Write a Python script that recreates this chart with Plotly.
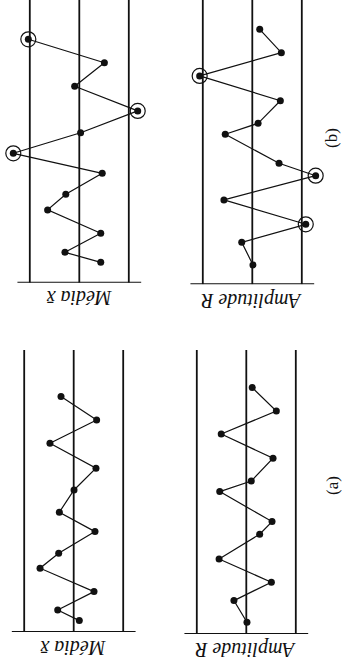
import plotly.graph_objects as go

# ---- data (values in sigma units, CL = 0; t = sample position) ----
limits = [-3, 0, 3]

b_mean_v = [-1.30, 0.87, -1.30, 1.92, 0.82, -1.39, 4.00, -0.08, -3.54, 0.28, -1.52, 3.09]
b_mean_t = [1.02, 1.52, 2.47, 3.64, 4.42, 5.47, 6.47, 7.50, 8.59, 9.82, 11.00, 12.17]
b_mean_out = [6, 8, 11]

b_range_v = [-0.04, 0.64, -3.24, 1.72, -3.84, -1.62, 1.64, -0.35, -1.70, 3.19, -1.76, -0.45]
b_range_t = [0.97, 2.10, 3.00, 4.22, 5.43, 6.05, 7.50, 8.05, 9.18, 10.42, 11.58, 12.75]
b_range_out = [2, 4, 9]

a_mean_v = [-0.34, 0.97, -1.23, 2.04, 0.91, -1.29, 0.87, -0.02, -1.35, 1.44, -1.39, 0.77]
a_mean_t = [0.57, 1.10, 2.02, 3.19, 3.94, 5.02, 5.99, 7.10, 8.19, 9.44, 10.60, 11.77]
a_mean_out = []

a_range_v = [-0.04, 0.75, -1.52, 1.65, -0.81, -1.56, 1.61, -0.30, -1.62, 1.52, -1.82, -0.36]
a_range_t = [0.59, 1.67, 2.59, 3.75, 4.99, 5.62, 7.12, 7.65, 8.79, 10.00, 11.15, 12.32]
a_range_out = []

label_mean = "Média x\u0304"
label_range = "Amplitude R"
panel_labels = ["(b)", "(a)"]

# ---- layout geometry ----
W, H = 346, 670
UNIT = 16.5   # px per sigma unit
TUNIT = 20.0  # px per sample unit
HALF_BASE = 3.75
HALF_RANGE = 4.4

panels = [
    dict(cx=79.3, base=282.7, top=0.0, v=b_mean_v, t=b_mean_t, out=b_mean_out, label=label_mean),
    dict(cx=252.3, base=284.3, top=0.0, v=b_range_v, t=b_range_t, out=b_range_out, label=label_range),
    dict(cx=73.7, base=632.0, top=350.0, v=a_mean_v, t=a_mean_t, out=a_mean_out, label=label_mean),
    dict(cx=246.3, base=634.0, top=350.0, v=a_range_v, t=a_range_t, out=a_range_out, label=label_range),
]

fig = go.Figure()
shapes = []
annotations = []
layout_axes = {}

for i, p in enumerate(panels, start=1):
    sfx = "" if i == 1 else str(i)
    xr, yr = f"x{sfx}", f"y{sfx}"
    x0 = (p["cx"] - HALF_RANGE * UNIT) / W
    x1 = (p["cx"] + HALF_RANGE * UNIT) / W
    y0 = 1 - p["base"] / H
    y1 = 1 - p["top"] / H
    tmax = (p["base"] - p["top"]) / TUNIT
    layout_axes[f"xaxis{sfx}"] = dict(domain=[x0, x1], range=[HALF_RANGE, -HALF_RANGE],
                                      visible=False, anchor=yr, fixedrange=True)
    layout_axes[f"yaxis{sfx}"] = dict(domain=[y0, y1], range=[0, tmax],
                                      visible=False, anchor=xr, fixedrange=True)
    for lim in limits:
        shapes.append(dict(type="line", xref=xr, yref=yr, x0=lim, x1=lim, y0=0, y1=tmax,
                           line=dict(color="#111", width=1.8)))
    shapes.append(dict(type="line", xref=xr, yref=yr, x0=-HALF_BASE, x1=HALF_BASE, y0=0, y1=0,
                       line=dict(color="#111", width=2)))
    fig.add_trace(go.Scatter(x=p["v"], y=p["t"], xaxis=xr, yaxis=yr, mode="lines+markers",
                             line=dict(color="#111", width=1.2),
                             marker=dict(color="#111", size=7),
                             cliponaxis=False, showlegend=False, hoverinfo="skip"))
    if p["out"]:
        fig.add_trace(go.Scatter(x=[p["v"][k] for k in p["out"]], y=[p["t"][k] for k in p["out"]],
                                 xaxis=xr, yaxis=yr, mode="markers",
                                 marker=dict(symbol="circle-open", size=15, color="#111",
                                             line=dict(color="#111", width=1.2)),
                                 cliponaxis=False, showlegend=False, hoverinfo="skip"))
    annotations.append(dict(text=p["label"], xref=xr, yref="paper", x=0,
                            y=1 - (p["base"] + 16) / H, showarrow=False, textangle=180,
                            xanchor="center", yanchor="middle",
                            font=dict(family="Liberation Serif", size=20, color="#111",
                                      style="italic")))

annotations.append(dict(text=panel_labels[0], xref="paper", yref="paper", x=331 / W, y=1 - 138 / H,
                        showarrow=False, textangle=-90, xanchor="center", yanchor="middle",
                        font=dict(family="Liberation Serif", size=17, color="#111")))
annotations.append(dict(text=panel_labels[1], xref="paper", yref="paper", x=332 / W, y=1 - 486 / H,
                        showarrow=False, textangle=-90, xanchor="center", yanchor="middle",
                        font=dict(family="Liberation Serif", size=17, color="#111")))

fig.update_layout(width=W, height=H, margin=dict(l=0, r=0, t=0, b=0),
                  paper_bgcolor="white", plot_bgcolor="rgba(0,0,0,0)",
                  shapes=shapes, annotations=annotations, **layout_axes)

fig.write_html("out.html", config=dict(displayModeBar=False),
               post_script="document.body.style.margin='0';document.body.style.overflow='hidden';")
